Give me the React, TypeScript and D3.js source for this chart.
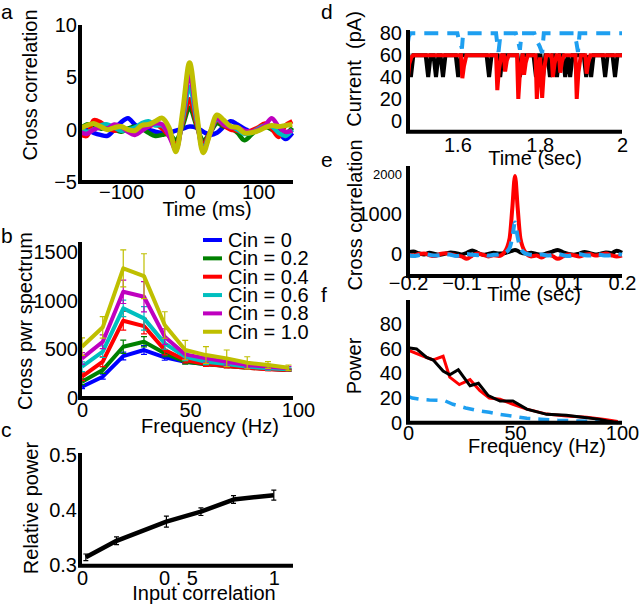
import React, { useEffect, useRef } from 'react';
import * as d3 from 'd3';

// ---- panel a : cross correlation vs lag
const lagMs = [-160, -150, -140, -130, -120, -110, -100, -90, -80, -70, -60, -50, -40, -30, -20, -10, 0, 10, 20, 30, 40, 50, 60, 70, 80, 90, 100, 110, 120, 130, 140, 150];
const ccBlue = [0.2, 0.0, -0.3, -0.5, -0.6, 0.0, 0.7, 1.1, 0.5, 0.1, 0.0, -0.2, -0.3, -0.3, -0.1, 0.1, 0.3, 0.2, -0.2, -0.5, -0.3, 0.3, 0.8, 0.5, 0.1, -0.2, -0.1, 0.3, 0.2, -0.2, -0.9, -0.3];
const ccGreen = [0.0, 0.5, 0.4, 0.1, 0.2, 0.0, -0.2, 0.1, 0.3, 0.1, -0.3, -0.6, -0.5, -0.4, -1.0, 0.4, 2.1, 0.4, -1.0, -0.3, 0.6, 0.3, 0.2, -0.3, -1.0, -0.5, 0.1, 0.3, 0.0, -0.3, -0.4, 0.2];
const ccRed = [-0.4, -0.6, 0.9, 0.7, 0.2, -0.1, 0.1, 0.0, -0.2, 0.2, 0.3, 0.5, 0.1, -0.6, -1.4, 0.7, 2.9, 0.6, -1.4, -0.2, 0.9, 0.4, 0.0, -0.1, -0.3, -0.1, 0.2, 0.6, 0.1, -0.7, 0.4, 0.8];
const ccCyan = [0.1, -0.2, 0.0, 0.4, 0.5, 0.2, -0.1, 0.0, 0.2, 0.6, 0.8, 0.4, 0.4, -0.5, -1.7, 1.0, 4.1, 1.0, -1.7, -0.3, 1.0, 0.5, 0.3, 0.0, -0.4, -0.3, 0.1, 0.4, 0.3, -0.3, -0.6, 0.0];
const ccMagenta = [-0.2, -0.4, 0.0, 0.2, 0.1, 0.5, 0.3, -0.2, -0.5, -0.1, 0.3, 0.6, 0.5, -0.6, -1.9, 1.4, 5.2, 1.4, -1.9, -0.4, 1.1, 0.5, 0.2, 0.2, -0.1, -0.2, 0.0, 0.4, 1.1, 0.3, -0.2, -0.1];
const ccYellow = [0.1, 0.4, 0.6, 0.3, 0.0, 0.2, 0.3, 0.0, -0.1, 0.4, 0.5, 0.8, 1.1, 0.2, -2.1, 1.8, 6.4, 1.8, -2.2, -0.3, 1.4, 0.9, 0.3, 0.2, -0.3, -0.3, -0.1, 0.2, 0.4, 0.3, 0.4, 0.5];

const cinLabels = ['Cin = 0', 'Cin = 0.2', 'Cin = 0.4', 'Cin = 0.6', 'Cin = 0.8', 'Cin = 1.0'];
const cinColors = ['#0000ff', '#008000', '#ff0000', '#00bfbf', '#bf00bf', '#bfbf00'];

// ---- panel b : cross power spectrum
const freqB = [0, 9.6, 19.1, 28.7, 38.3, 47.8, 57.4, 67, 76.5, 86.1, 95.6];
const psBlue = [116, 219, 431, 493, 418, 373, 349, 332, 315, 301, 287];
const psGreen = [167, 287, 527, 578, 459, 373, 346, 329, 311, 301, 287];
const psRed = [219, 373, 794, 739, 493, 390, 349, 329, 311, 295, 287];
const psCyan = [322, 476, 921, 818, 561, 424, 373, 349, 322, 305, 295];
const psMagenta = [407, 578, 1091, 1040, 630, 448, 407, 373, 339, 322, 305];
const psYellow = [527, 726, 1332, 1252, 750, 493, 441, 407, 362, 339, 311];
const errBlue = [20, 25, 40, 45, 30, 20, 15, 12, 10, 10, 8];
const errGreen = [30, 35, 68, 52, 35, 25, 20, 18, 15, 12, 10];
const errRed = [40, 50, 96, 80, 50, 30, 25, 20, 18, 15, 12];
const errCyan = [50, 60, 85, 120, 60, 40, 30, 25, 20, 18, 15];
const errMagenta = [60, 70, 120, 155, 80, 50, 40, 35, 30, 25, 20];
const errYellow = [90, 110, 190, 230, 136, 100, 86, 86, 62, 34, 28];

// ---- panel c : relative power
const inputCorr = [0.02, 0.18, 0.44, 0.62, 0.79, 1.0];
const relPower = [0.314, 0.344, 0.379, 0.397, 0.419, 0.427];
const relPowerErr = [0.006, 0.007, 0.01, 0.007, 0.007, 0.009];

// ---- panel d : currents (time sec, pA)
const curBlack: [number, number][] = [
  [1.48, 60], [1.481, 60], [1.487, 40], [1.493, 60], [1.523, 60], [1.529, 40], [1.535, 60],
  [1.542, 60], [1.548, 40], [1.554, 60], [1.559, 60], [1.565, 40], [1.571, 60],
  [1.596, 60], [1.602, 40], [1.608, 60], [1.671, 60], [1.677, 40], [1.683, 60],
  [1.698, 60], [1.704, 40], [1.710, 60], [1.746, 60], [1.752, 40], [1.758, 60],
  [1.785, 60], [1.791, 40], [1.797, 60], [1.802, 60], [1.808, 40], [1.814, 60],
  [1.819, 60], [1.825, 40], [1.831, 60], [1.836, 60], [1.842, 40], [1.848, 60],
  [1.856, 60], [1.862, 40], [1.868, 60], [1.874, 40], [1.880, 60],
  [1.907, 60], [1.913, 40], [1.919, 60], [1.925, 40], [1.931, 60],
  [1.953, 60], [1.959, 40], [1.965, 60], [1.977, 60], [1.983, 40], [1.989, 60], [2.0, 60],
];
const curRed: [number, number][] = [
  [1.48, 40], [1.483, 52], [1.488, 58], [1.493, 60],
  [1.609, 60], [1.612, 39], [1.616, 50], [1.622, 60],
  [1.694, 60], [1.697, 28], [1.701, 47], [1.707, 60],
  [1.713, 60], [1.716, 45], [1.720, 55], [1.725, 60],
  [1.745, 60], [1.748, 20], [1.752, 44], [1.758, 60],
  [1.759, 60], [1.762, 42], [1.766, 53], [1.771, 60],
  [1.790, 60], [1.793, 20], [1.797, 44], [1.801, 58], [1.806, 21], [1.810, 45], [1.816, 60],
  [1.829, 60], [1.832, 40], [1.836, 52], [1.841, 60],
  [1.847, 60], [1.850, 44], [1.854, 54], [1.859, 60],
  [1.887, 60], [1.890, 20], [1.894, 44], [1.900, 60],
  [1.911, 60], [1.914, 43], [1.918, 53], [1.923, 60], [2.0, 60],
];
const curBlue: [number, number][] = [
  [1.48, 72], [1.482, 77], [1.486, 80],
  [1.600, 80], [1.603, 75], [1.607, 72], [1.611, 66], [1.614, 80],
  [1.694, 80], [1.697, 70], [1.700, 63], [1.705, 80],
  [1.742, 80], [1.747, 74], [1.752, 65], [1.756, 80],
  [1.787, 80], [1.792, 74], [1.800, 68], [1.806, 62], [1.810, 80],
  [1.884, 80], [1.889, 72], [1.893, 63], [1.897, 80], [2.0, 80],
];

// ---- panel e : cross correlation (sec)
const lagSec = [-0.2, -0.19, -0.18, -0.17, -0.16, -0.15, -0.14, -0.13, -0.12, -0.11, -0.1, -0.09, -0.08, -0.07, -0.06, -0.05, -0.04, -0.03, -0.02, -0.01, -0.005, 0, 0.005, 0.01, 0.02, 0.03, 0.04, 0.05, 0.06, 0.07, 0.08, 0.09, 0.1, 0.11, 0.12, 0.13, 0.14, 0.15, 0.16, 0.17, 0.18, 0.19, 0.2];
const xcBlack = [40, 60, 20, -10, 30, 0, -20, 10, 40, 20, -10, 30, 90, 30, -20, 0, 30, 10, 20, 60, 80, 100, 80, 40, 10, 30, 0, -20, 20, 60, 100, 40, 0, -20, 10, 50, 20, -10, 10, 40, 20, 80, 30];
const xcRed = [-20, -40, 0, 10, -30, -50, 0, 20, -10, -40, -60, -120, -40, 10, -20, -60, -30, -50, 40, 400, 1150, 1950, 1150, 400, 30, -60, -40, -90, -20, -50, -120, -60, -10, -30, -60, -20, 0, -40, -20, 10, -30, -60, -40];
const xcBlue = [-20, -50, -30, 0, -20, -40, -30, 0, -20, -50, -30, 0, -20, -30, -10, -40, -20, -10, 20, 150, 420, 790, 420, 150, 10, -20, -30, -10, -40, -20, 0, -30, -50, -20, 0, -30, -40, -10, -20, -40, -30, 0, -20];

// ---- panel f : power spectra
const powBlack: [number, number][] = [[0, 61], [4, 60], [8.7, 53], [11.8, 51], [16.4, 42], [19.5, 39], [23.5, 43], [29, 30], [32.9, 32], [37.5, 22], [43, 17.6], [49, 17.6], [55.5, 11], [64.8, 6.8], [74, 6], [83.5, 4], [89.7, 2.7], [93, 1.5], [96, 0.5], [98, 0]];
const powRed: [number, number][] = [[0, 59], [8.7, 53], [11.8, 51], [16.4, 54], [19.5, 37], [24, 31], [29, 35], [33.6, 26], [38, 20], [43, 19], [49, 15], [55.5, 11], [64.8, 7], [74, 5.5], [83.5, 4.4], [92, 2.7], [98, 1]];
const powBlue: [number, number][] = [[0, 21.5], [2, 20], [5.6, 19], [10, 18.5], [17, 18], [21, 15], [27, 12], [32, 10], [38, 8.5], [43, 6.8], [50, 5], [55.5, 3.6], [62, 2.8], [70, 2], [80, 1.4], [90, 0.8], [98, 0.3]];

const FONT = '"Liberation Sans", Arial, Helvetica, sans-serif';
const LIGHT_BLUE = '#1e9ff0';

type Sel = d3.Selection<any, unknown, null, undefined>;

const frame = (svg: Sel, l: number, t: number, r: number, b: number) => {
  svg.append('path')
    .attr('d', `M${l},${t}V${b}H${r}`)
    .attr('fill', 'none')
    .attr('stroke', '#000')
    .attr('stroke-width', 4);
};

const leftTicks = (svg: Sel, y: any, at: number, values: number[], pad: number, fmt?: (d: any) => string) => {
  const g = svg.append('g')
    .attr('transform', `translate(${at},0)`)
    .call(d3.axisLeft(y).tickValues(values).tickSize(0).tickPadding(pad).tickFormat(fmt ?? ((d: any) => d3.format('')(d))));
  g.select('.domain').remove();
  g.attr('font-family', FONT).attr('font-size', 20);
  g.selectAll('text').attr('fill', '#000');
  return g;
};

const bottomTicks = (svg: Sel, x: any, at: number, values: number[], pad: number, fmt?: (d: any) => string) => {
  const g = svg.append('g')
    .attr('transform', `translate(0,${at})`)
    .call(d3.axisBottom(x).tickValues(values).tickSize(0).tickPadding(pad).tickFormat(fmt ?? ((d: any) => d3.format('')(d))));
  g.select('.domain').remove();
  g.attr('font-family', FONT).attr('font-size', 20);
  g.selectAll('text').attr('fill', '#000');
  return g;
};

const label = (svg: Sel, text: string, x: number, y: number, rotate = false, size = 20) => {
  svg.append('text')
    .attr('transform', rotate ? `translate(${x},${y}) rotate(-90)` : `translate(${x},${y})`)
    .attr('text-anchor', 'middle')
    .attr('font-family', FONT)
    .attr('font-size', size)
    .attr('fill', '#000')
    .style('white-space', 'pre')
    .text(text);
};

const panelTag = (svg: Sel, text: string, x: number, y: number) => {
  svg.append('text').attr('x', x).attr('y', y)
    .attr('font-family', FONT).attr('font-size', 21).attr('fill', '#000').text(text);
};

const errBars = (svg: Sel, xs: number[], ys: number[], es: number[], x: any, y: any, color: string, cap: number) => {
  xs.forEach((xv, i) => {
    const px = x(xv);
    const top = y(ys[i] + es[i]);
    const bot = y(ys[i] - es[i]);
    svg.append('path')
      .attr('d', `M${px},${top}V${bot}M${px - cap},${top}H${px + cap}M${px - cap},${bot}H${px + cap}`)
      .attr('stroke', color)
      .attr('stroke-width', 1.2)
      .attr('fill', 'none');
  });
};

function drawChart(svg: Sel) {
  // ---------- a
  const xa = d3.scaleLinear().domain([-160, 151]).range([80, 293]);
  const ya = d3.scaleLinear().domain([-5, 10]).range([182, 25]);
  const lineA = d3.line<number>().x((_, i) => xa(lagMs[i])).y((d) => ya(d)).curve(d3.curveCatmullRom);
  [ccBlue, ccGreen, ccRed, ccCyan, ccMagenta, ccYellow].forEach((s, k) => {
    svg.append('path').attr('d', lineA(s)).attr('fill', 'none')
      .attr('stroke', cinColors[k]).attr('stroke-width', k === 5 ? 5 : 4.5);
  });
  frame(svg, 80, 25, 293, 182);
  leftTicks(svg, ya, 80, [-5, 0, 5, 10], 3);
  bottomTicks(svg, xa, 182, [-100, 0, 100], 3);
  label(svg, 'Cross correlation', 37, 85, true);
  label(svg, 'Time (ms)', 207, 216);
  panelTag(svg, 'a', 1, 19);

  // ---------- b
  const xb = d3.scaleLinear().domain([0, 100]).range([82, 298]);
  const yb = d3.scaleLinear().domain([0, 1500]).range([398, 252]);
  const lineB = d3.line<number>().x((_, i) => xb(freqB[i])).y((d) => yb(d));
  const specs = [psBlue, psGreen, psRed, psCyan, psMagenta, psYellow];
  const errs = [errBlue, errGreen, errRed, errCyan, errMagenta, errYellow];
  specs.forEach((s, k) => {
    errBars(svg, freqB, s, errs[k], xb, yb, cinColors[k], 3);
    svg.append('path').attr('d', lineB(s)).attr('fill', 'none')
      .attr('stroke', cinColors[k]).attr('stroke-width', 4).attr('stroke-linejoin', 'round');
  });
  frame(svg, 80, 242, 293, 398);
  leftTicks(svg, yb, 80, [0, 500, 1000, 1500], 2);
  bottomTicks(svg, xb, 398, [0, 50, 100], 5);
  label(svg, 'Cross pwr spectrum', 32, 321, true);
  label(svg, 'Frequency (Hz)', 210, 433);
  panelTag(svg, 'b', 1, 243);

  const legend = svg.append('g').attr('font-family', FONT).attr('font-size', 20);
  cinLabels.forEach((t, k) => {
    const yy = 240 + k * 18.35;
    legend.append('line').attr('x1', 203).attr('x2', 222).attr('y1', yy).attr('y2', yy)
      .attr('stroke', cinColors[k]).attr('stroke-width', 4);
    legend.append('text').attr('x', 228).attr('y', yy).attr('dy', '0.35em').attr('fill', '#000').text(t);
  });

  // ---------- c
  const xc = d3.scaleLinear().domain([0, 1.1]).range([82, 293]);
  const yc = d3.scaleLinear().domain([0.3, 0.5]).range([565, 455]);
  errBars(svg, inputCorr, relPower, relPowerErr, xc, yc, '#000', 2.5);
  const lineC = d3.line<number>().x((_, i) => xc(inputCorr[i])).y((d) => yc(d));
  svg.append('path').attr('d', lineC(relPower)).attr('fill', 'none')
    .attr('stroke', '#000').attr('stroke-width', 4.5).attr('stroke-linejoin', 'round');
  frame(svg, 80, 453, 293, 565.7);
  leftTicks(svg, yc, 80, [0.3, 0.4, 0.5], 3, (d) => d3.format('.1f')(d));
  bottomTicks(svg, xc, 565.7, [0, 0.5, 1], 5, (d) => (d === 0.5 ? '0 . 5' : String(d)));
  label(svg, 'Relative power', 38, 508, true);
  label(svg, 'Input correlation', 204, 600);
  panelTag(svg, 'c', 1, 437);

  // ---------- d
  const xd = d3.scaleLinear().domain([1.48, 2.0]).range([408, 622]);
  const yd = d3.scaleLinear().domain([-10, 83]).range([131.7, 30]);
  const lineD = d3.line<[number, number]>().x((d) => xd(d[0])).y((d) => yd(d[1]));
  svg.append('path').attr('d', lineD(curBlack)).attr('fill', 'none').attr('stroke', '#000').attr('stroke-width', 4);
  svg.append('path').attr('d', lineD(curRed)).attr('fill', 'none').attr('stroke', '#ff0000').attr('stroke-width', 4);
  svg.append('path').attr('d', lineD(curBlue)).attr('fill', 'none').attr('stroke', LIGHT_BLUE)
    .attr('stroke-width', 4).attr('stroke-dasharray', '14,9');
  frame(svg, 408, 30, 622, 131.7);
  leftTicks(svg, yd, 408, [0, 20, 40, 60, 80], 6);
  bottomTicks(svg, xd, 131.7, [1.6, 1.8, 2], 6);
  label(svg, 'Current  (pA)', 361, 69, true);
  label(svg, 'Time (sec)', 535, 165);
  panelTag(svg, 'd', 321, 19);

  // ---------- e
  const xe = d3.scaleLinear().domain([-0.2, 0.2]).range([408, 622]);
  const ye = d3.scaleLinear().domain([-550, 2200]).range([276, 166]);
  const lineE = d3.line<number>().x((_, i) => xe(lagSec[i])).y((d) => ye(d)).curve(d3.curveMonotoneX);
  svg.append('path').attr('d', lineE(xcBlack)).attr('fill', 'none').attr('stroke', '#000').attr('stroke-width', 4);
  svg.append('path').attr('d', lineE(xcRed)).attr('fill', 'none').attr('stroke', '#ff0000').attr('stroke-width', 4);
  svg.append('path').attr('d', lineE(xcBlue)).attr('fill', 'none').attr('stroke', LIGHT_BLUE)
    .attr('stroke-width', 4).attr('stroke-dasharray', '12,8');
  frame(svg, 408, 166, 622, 276);
  const eTicks = leftTicks(svg, ye, 408, [0, 1000, 2000], 6);
  eTicks.selectAll('text').filter((d: any) => d === 2000).attr('font-size', 13);
  bottomTicks(svg, xe, 276, [-0.2, -0.1, 0, 0.1, 0.2], 0);
  label(svg, 'Cross correlation', 362, 215, true);
  label(svg, 'Time (sec)', 534, 301);
  panelTag(svg, 'e', 321, 167);

  // ---------- f
  const xf = d3.scaleLinear().domain([0, 100]).range([408, 622]);
  const yf = d3.scaleLinear().domain([0, 100]).range([422.7, 299.7]);
  const lineF = d3.line<[number, number]>().x((d) => xf(d[0])).y((d) => yf(d[1]));
  svg.append('path').attr('d', lineF(powBlue)).attr('fill', 'none').attr('stroke', LIGHT_BLUE)
    .attr('stroke-width', 3.5).attr('stroke-dasharray', '11,8');
  svg.append('path').attr('d', lineF(powRed)).attr('fill', 'none').attr('stroke', '#ff0000').attr('stroke-width', 3);
  svg.append('path').attr('d', lineF(powBlack)).attr('fill', 'none').attr('stroke', '#000').attr('stroke-width', 3);
  frame(svg, 408, 300, 622, 422.7);
  leftTicks(svg, yf, 408, [0, 20, 40, 60, 80], 6);
  bottomTicks(svg, xf, 422.7, [0, 50, 100], 3);
  label(svg, 'Power', 361, 366, true);
  label(svg, 'Frequency (Hz)', 537, 453);
  panelTag(svg, 'f', 321, 302);
}

export default function App() {
  const svgRef = useRef<SVGSVGElement>(null);

  useEffect(() => {
    const svg = d3.select(svgRef.current) as unknown as Sel;
    svg.selectAll('*').remove();
    drawChart(svg);
  }, []);

  return (
    <svg
      ref={svgRef}
      width={640}
      height={606}
      style={{ position: 'absolute', left: 0, top: 0, background: '#fff' }}
    />
  );
}
